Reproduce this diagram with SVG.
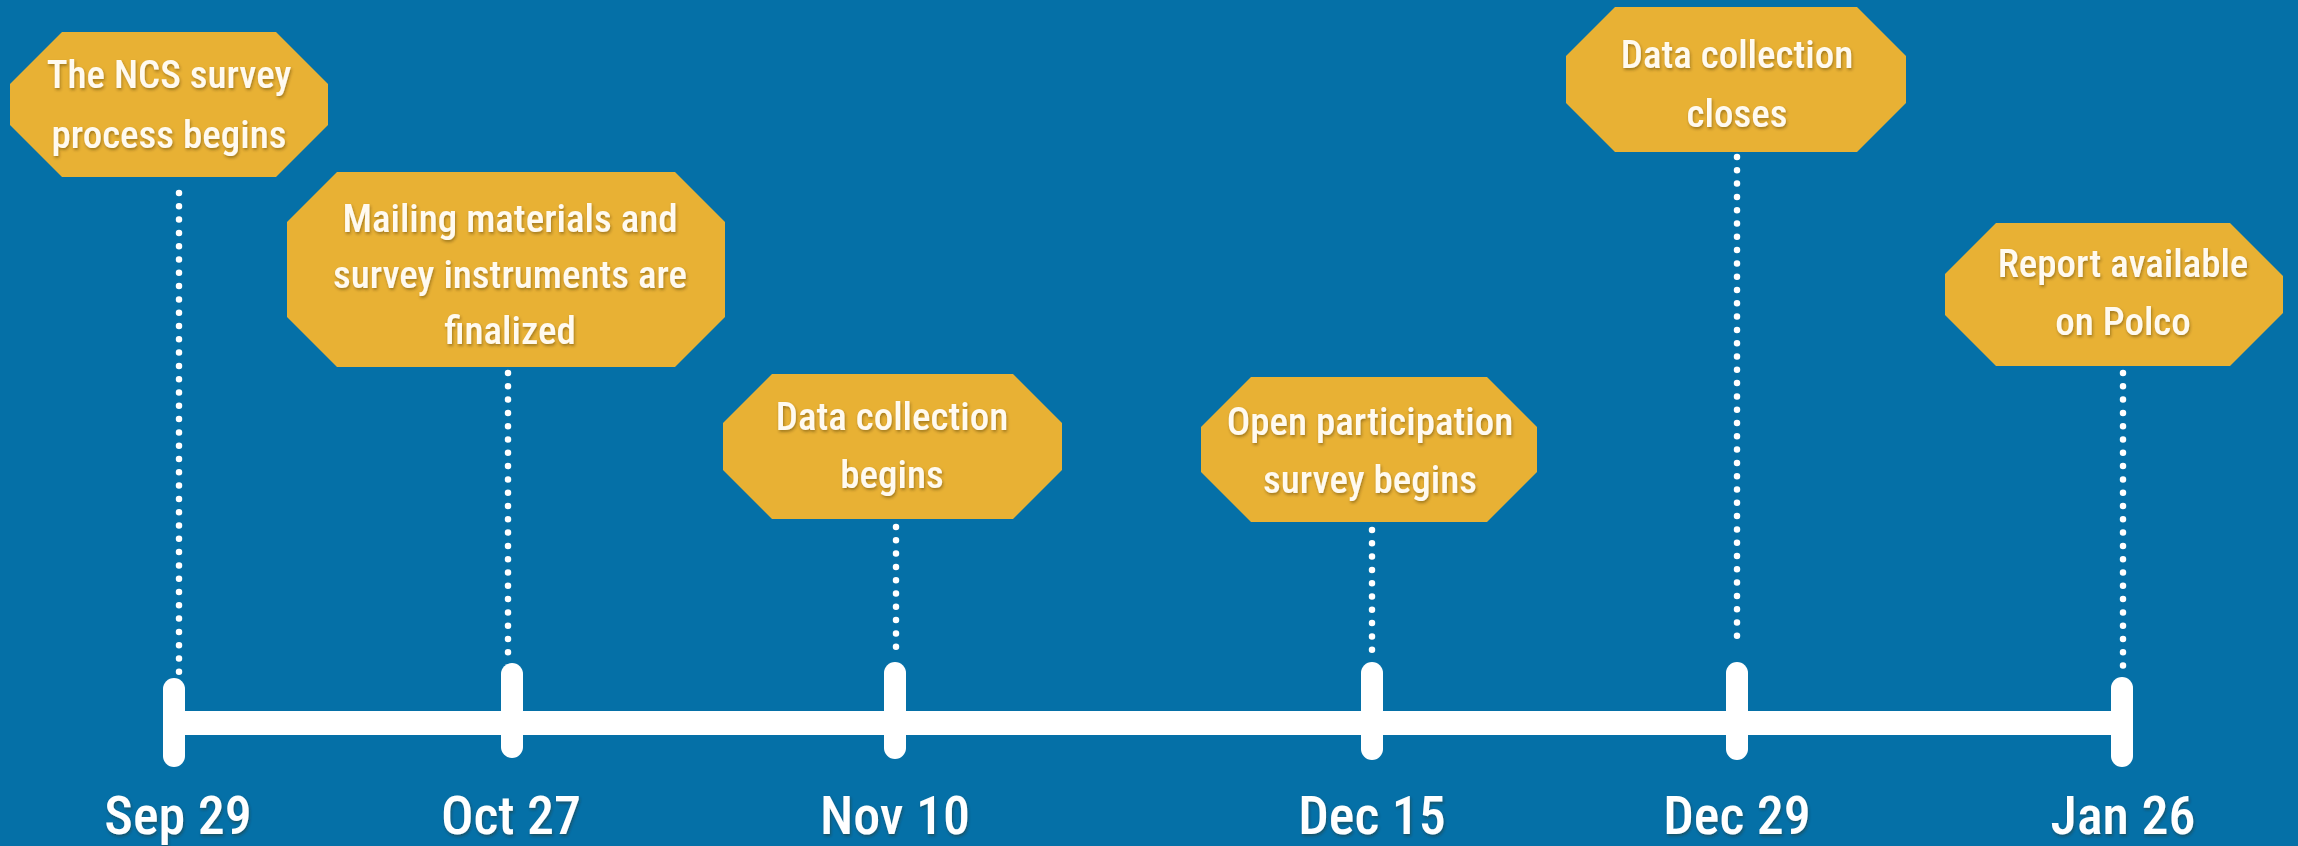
<svg xmlns="http://www.w3.org/2000/svg" width="2298" height="846" viewBox="0 0 2298 846">
  <defs>
    <filter id="soft" x="-10%" y="-30%" width="120%" height="160%">
      <feDropShadow dx="1" dy="2" stdDeviation="1.6" flood-color="#3a2a00" flood-opacity="0.4"/>
    </filter>
    <style>
      .bg { fill: #0570a7; }
      .box { fill: #e8b134; }
      .lbl { font-family: "Liberation Sans Narrow", "Roboto Condensed", "DejaVu Sans Condensed", "Liberation Sans", sans-serif; font-weight: 500; font-size: 39px; fill: #fffaf0; text-anchor: middle; filter: url(#soft); }
      .date { font-family: "Liberation Sans Narrow", "Roboto Condensed", "DejaVu Sans Condensed", "Liberation Sans", sans-serif; font-weight: 500; font-size: 54px; fill: #ffffff; text-anchor: middle; filter: url(#soft); }
      .dots { stroke: #ffffff; stroke-width: 6.5; stroke-linecap: round; stroke-dasharray: 0 13.3; fill: none; }
      .axis { stroke: #ffffff; stroke-width: 24; fill: none; }
      .tick { stroke: #ffffff; stroke-width: 22; stroke-linecap: round; fill: none; }
    </style>
  </defs>

  <rect class="bg" x="0" y="0" width="2298" height="846"/>

  <!-- timeline axis and date ticks -->
  <g id="timeline">
    <line class="axis" x1="174" y1="723" x2="2122" y2="723"/>
    <line class="tick" x1="174" y1="689" x2="174" y2="756"/>
    <line class="tick" x1="512" y1="674" x2="512" y2="747"/>
    <line class="tick" x1="895" y1="673" x2="895" y2="748"/>
    <line class="tick" x1="1372" y1="673" x2="1372" y2="749"/>
    <line class="tick" x1="1737" y1="673" x2="1737" y2="749"/>
    <line class="tick" x1="2122" y1="688" x2="2122" y2="756"/>
  </g>

  <!-- dotted leaders from each milestone to its date -->
  <g id="connectors">
    <line class="dots" x1="179" y1="193" x2="179" y2="675"/>
    <line class="dots" x1="508" y1="373" x2="508" y2="653"/>
    <line class="dots" x1="896" y1="527" x2="896" y2="650"/>
    <line class="dots" x1="1372" y1="530" x2="1372" y2="650"/>
    <line class="dots" x1="1737" y1="157" x2="1737" y2="637"/>
    <line class="dots" x1="2123" y1="373" x2="2123" y2="666"/>
  </g>

  <!-- milestones -->
  <g id="m-survey-begins">
    <polygon class="box" points="62,32 276,32 328,84 328,125 276,177 62,177 10,125 10,84"/>
    <text class="lbl" x="169" y="88">The NCS survey</text>
    <text class="lbl" x="169" y="148">process begins</text>
  </g>

  <g id="m-materials-finalized">
    <polygon class="box" points="337,172 675,172 725,222 725,317 675,367 337,367 287,317 287,222"/>
    <text class="lbl" x="510" y="232">Mailing materials and</text>
    <text class="lbl" x="510" y="288">survey instruments are</text>
    <text class="lbl" x="510" y="344">finalized</text>
  </g>

  <g id="m-collection-begins">
    <polygon class="box" points="772,374 1013,374 1062,423 1062,470 1013,519 772,519 723,470 723,423"/>
    <text class="lbl" x="892" y="430">Data collection</text>
    <text class="lbl" x="892" y="488">begins</text>
  </g>

  <g id="m-open-participation">
    <polygon class="box" points="1251,377 1487,377 1537,427 1537,472 1487,522 1251,522 1201,472 1201,427"/>
    <text class="lbl" x="1370" y="435">Open participation</text>
    <text class="lbl" x="1370" y="493">survey begins</text>
  </g>

  <g id="m-collection-closes">
    <polygon class="box" points="1615,7 1857,7 1906,56 1906,103 1857,152 1615,152 1566,103 1566,56"/>
    <text class="lbl" x="1737" y="68">Data collection</text>
    <text class="lbl" x="1737" y="127">closes</text>
  </g>

  <g id="m-report-available">
    <polygon class="box" points="1996,223 2230,223 2283,276 2283,313 2230,366 1996,366 1945,315 1945,274"/>
    <text class="lbl" x="2123" y="277">Report available</text>
    <text class="lbl" x="2123" y="335">on Polco</text>
  </g>

  <!-- dates -->
  <g id="dates">
    <text class="date" x="178" y="834">Sep 29</text>
    <text class="date" x="511" y="834">Oct 27</text>
    <text class="date" x="895" y="834">Nov 10</text>
    <text class="date" x="1372" y="834">Dec 15</text>
    <text class="date" x="1737" y="834">Dec 29</text>
    <text class="date" x="2123" y="834">Jan 26</text>
  </g>
</svg>
